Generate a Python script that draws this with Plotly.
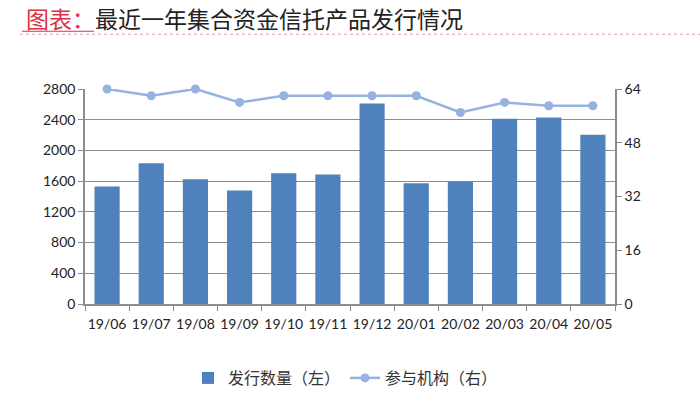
import plotly.graph_objects as go

categories = ["19/06", "19/07", "19/08", "19/09", "19/10", "19/11",
              "19/12", "20/01", "20/02", "20/03", "20/04", "20/05"]
issuance = [1530, 1832, 1625, 1478, 1703, 1686, 2611, 1573, 1591, 2412, 2430, 2205]
institutions = [64, 62, 64, 60, 62, 62, 62, 62, 57, 60, 59, 59]
left_ticks = [0, 400, 800, 1200, 1600, 2000, 2400, 2800]
right_ticks = [0, 16, 32, 48, 64]

FONT = "Noto Sans CJK SC"
TICKFONT = "Lato"
BAR_COLOR = "#4F81BD"
LINE_COLOR = "#95B3DE"
GRID = "#8C8C8C"

# plot area in reference pixel coordinates
PL, PR, PT, PB = 85, 615, 89, 305
pw = PR - PL
ph = PB - PT
def px(x):
    return (x - PL) / pw
def py(y):
    return (PB - y) / ph

fig = go.Figure()
fig.add_trace(go.Bar(
    x=categories, y=issuance, name="发行数量（左）",
    marker=dict(color=BAR_COLOR, line=dict(width=0)),
    yaxis="y",
))
fig.add_trace(go.Scatter(
    x=categories, y=institutions, name="参与机构（右）",
    mode="lines+markers", cliponaxis=False,
    line=dict(color=LINE_COLOR, width=2.5),
    marker=dict(color=LINE_COLOR, size=9),
    yaxis="y2",
))

fig.update_layout(
    width=700, height=406,
    margin=dict(l=PL, r=700 - PR, t=PT, b=406 - PB),
    paper_bgcolor="white", plot_bgcolor="white",
    font=dict(family=FONT, size=13, color="#222222"),
    bargap=0.43,
    showlegend=True,
    legend=dict(orientation="h", x=px(188), xanchor="left", y=py(378), yanchor="middle",
                font=dict(size=16, color="#333333", family=FONT), traceorder="normal"),
    xaxis=dict(
        type="category", range=[-0.5, 11.5], tickangle=0,
        showline=True, linecolor=GRID, linewidth=1.5,
        ticks="outside", tickson="boundaries", ticklen=5, tickcolor=GRID,
        showgrid=False, tickfont=dict(size=14, color="#222222", family=TICKFONT),
        ticklabelstandoff=6,
    ),
    yaxis=dict(
        range=[0, 2800], tickvals=left_ticks,
        showline=True, linecolor=GRID, linewidth=1.5,
        ticks="outside", ticklen=5, tickcolor=GRID,
        showgrid=True, gridcolor=GRID, gridwidth=1.2,
        zeroline=False, tickfont=dict(size=14, color="#222222", family=TICKFONT),
    ),
    yaxis2=dict(
        range=[0, 64], tickvals=right_ticks, overlaying="y", side="right",
        showline=True, linecolor=GRID, linewidth=1.5,
        ticks="outside", ticklen=5, tickcolor=GRID,
        showgrid=False, zeroline=False, tickfont=dict(size=14, color="#222222", family=TICKFONT),
    ),
    annotations=[
        dict(xref="paper", yref="paper", x=px(24), y=py(18), xanchor="left", yanchor="middle",
             showarrow=False,
             text="<span style='color:#E0304A'>图表：</span>最近一年集合资金信托产品发行情况",
             font=dict(size=23, color="#222222", family=FONT)),
    ],
    shapes=[
        dict(type="line", xref="paper", yref="paper", x0=px(20), x1=px(700), y0=py(34), y1=py(34),
             line=dict(color="#D9A0A8", width=1, dash="dot")),
        dict(type="line", xref="paper", yref="paper", x0=px(22), x1=px(94), y0=py(31), y1=py(31),
             line=dict(color="#E0304A", width=1.2)),
    ],
)

fig.write_html("out.html", config={"displayModeBar": False},
               post_script="document.body.style.margin='0px';")
